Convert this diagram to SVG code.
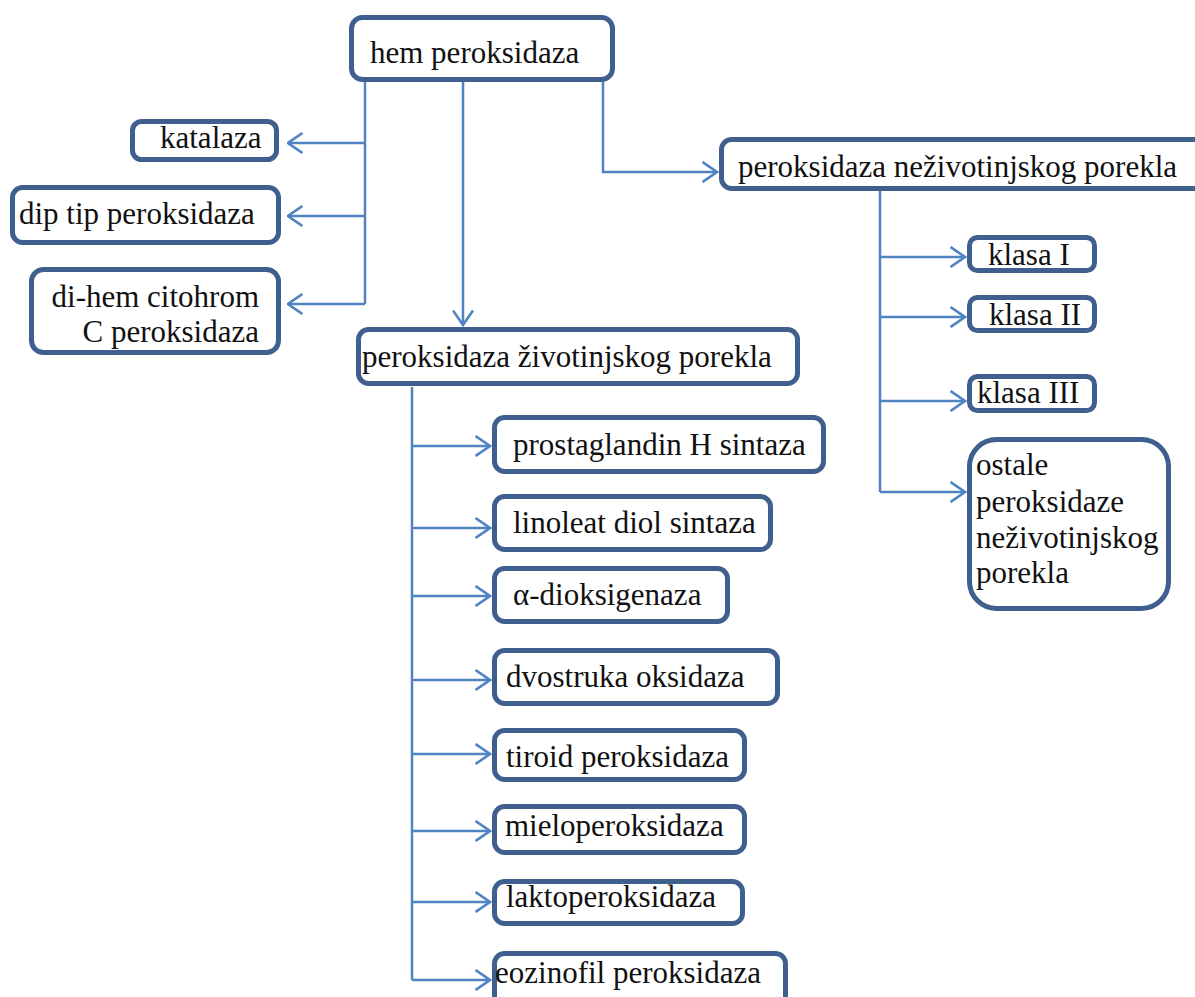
<svg xmlns="http://www.w3.org/2000/svg" width="1195" height="997" viewBox="0 0 1195 997">
<style>
  .box { fill: #ffffff; stroke: #3F5F8E; stroke-width: 5; }
  .lbl { font-family: "Liberation Serif", "Times New Roman", serif; font-size: 31px; fill: #111111; }
  .con { fill: none; stroke: #5083C2; stroke-width: 2.5; }
  .arr { fill: none; stroke: #5083C2; stroke-width: 2.5; marker-end: url(#chev); }
</style>
<defs>
  <marker id="chev" markerUnits="userSpaceOnUse" viewBox="0 0 17 22" refX="15.5" refY="11" markerWidth="17" markerHeight="22" orient="auto">
    <path d="M1,1 L15.5,11 L1,21" fill="none" stroke="#5083C2" stroke-width="2.6"/>
  </marker>
</defs>
<rect width="1195" height="997" fill="#ffffff"/>

<g id="connectors">
  <path class="con" d="M365,82 V304"/>
  <path class="arr" d="M365,143 H288"/>
  <path class="arr" d="M365,216 H288"/>
  <path class="arr" d="M365,304 H288"/>
  <path class="arr" d="M463,82 V325"/>
  <path class="arr" d="M603,82 V172 H717"/>
  <path class="con" d="M880,191 V492"/>
  <path class="arr" d="M880,257 H965"/>
  <path class="arr" d="M880,317 H965"/>
  <path class="arr" d="M880,401 H965"/>
  <path class="arr" d="M880,492 H965"/>
  <path class="con" d="M412,387 V980"/>
  <path class="arr" d="M412,446 H490"/>
  <path class="arr" d="M412,528 H490"/>
  <path class="arr" d="M412,596 H490"/>
  <path class="arr" d="M412,680 H490"/>
  <path class="arr" d="M412,754 H490"/>
  <path class="arr" d="M412,831 H490"/>
  <path class="arr" d="M412,902 H490"/>
  <path class="arr" d="M412,980 H490"/>
</g>

<g id="hem-peroksidaza">
  <rect class="box" x="351.5" y="17.5" width="261" height="62" rx="11"/>
  <text class="lbl" x="370" y="63">hem peroksidaza</text>
</g>
<g id="katalaza">
  <rect class="box" x="132.5" y="121.5" width="144" height="38" rx="9"/>
  <text class="lbl" x="160" y="148">katalaza</text>
</g>
<g id="dip-tip">
  <rect class="box" x="12.5" y="187.5" width="266" height="55" rx="10"/>
  <text class="lbl" x="19" y="224">dip tip peroksidaza</text>
</g>
<g id="di-hem">
  <rect class="box" x="31.5" y="269.5" width="247" height="83" rx="12"/>
  <text class="lbl" x="259" y="307" text-anchor="end">di-hem citohrom</text>
  <text class="lbl" x="259" y="342" text-anchor="end">C peroksidaza</text>
</g>
<g id="zivotinjskog">
  <rect class="box" x="358.5" y="329.5" width="439" height="54" rx="10"/>
  <text class="lbl" x="362" y="367">peroksidaza životinjskog porekla</text>
</g>
<g id="nezivotinjskog">
  <rect class="box" x="721.5" y="139.5" width="500" height="49" rx="10"/>
  <text class="lbl" x="738" y="177">peroksidaza neživotinjskog porekla</text>
</g>
<g id="klasa-1">
  <rect class="box" x="969.5" y="237.5" width="125" height="33" rx="8"/>
  <text class="lbl" x="988" y="265">klasa I</text>
</g>
<g id="klasa-2">
  <rect class="box" x="969.5" y="297.5" width="125" height="33" rx="8"/>
  <text class="lbl" x="989" y="325">klasa II</text>
</g>
<g id="klasa-3">
  <rect class="box" x="969.5" y="376.5" width="125" height="34" rx="8"/>
  <text class="lbl" x="977" y="403">klasa III</text>
</g>
<g id="ostale">
  <rect class="box" x="969.5" y="439.5" width="199" height="169" rx="27"/>
  <text class="lbl" x="976" y="475">ostale</text>
  <text class="lbl" x="976" y="512">peroksidaze</text>
  <text class="lbl" x="976" y="548">neživotinjskog</text>
  <text class="lbl" x="976" y="583">porekla</text>
</g>
<g id="prostaglandin">
  <rect class="box" x="494.5" y="417.5" width="329" height="54" rx="10"/>
  <text class="lbl" x="513" y="455">prostaglandin H sintaza</text>
</g>
<g id="linoleat">
  <rect class="box" x="494.5" y="496.5" width="276" height="53" rx="10"/>
  <text class="lbl" x="513" y="533">linoleat diol sintaza</text>
</g>
<g id="alfa-dioksigenaza">
  <rect class="box" x="494.5" y="568.5" width="233" height="53" rx="10"/>
  <text class="lbl" x="513" y="605">α-dioksigenaza</text>
</g>
<g id="dvostruka">
  <rect class="box" x="494.5" y="650.5" width="283" height="53" rx="10"/>
  <text class="lbl" x="506" y="687">dvostruka oksidaza</text>
</g>
<g id="tiroid">
  <rect class="box" x="494.5" y="730.5" width="250" height="49" rx="10"/>
  <text class="lbl" x="506" y="767">tiroid peroksidaza</text>
</g>
<g id="mielo">
  <rect class="box" x="494.5" y="806.5" width="250" height="46" rx="10"/>
  <text class="lbl" x="505" y="836">mieloperoksidaza</text>
</g>
<g id="lakto">
  <rect class="box" x="494.5" y="881.5" width="248" height="42" rx="10"/>
  <text class="lbl" x="506" y="907">laktoperoksidaza</text>
</g>
<g id="eozinofil">
  <rect class="box" x="494.5" y="953.5" width="291" height="60" rx="10"/>
  <text class="lbl" x="495" y="983">eozinofil peroksidaza</text>
</g>
</svg>
